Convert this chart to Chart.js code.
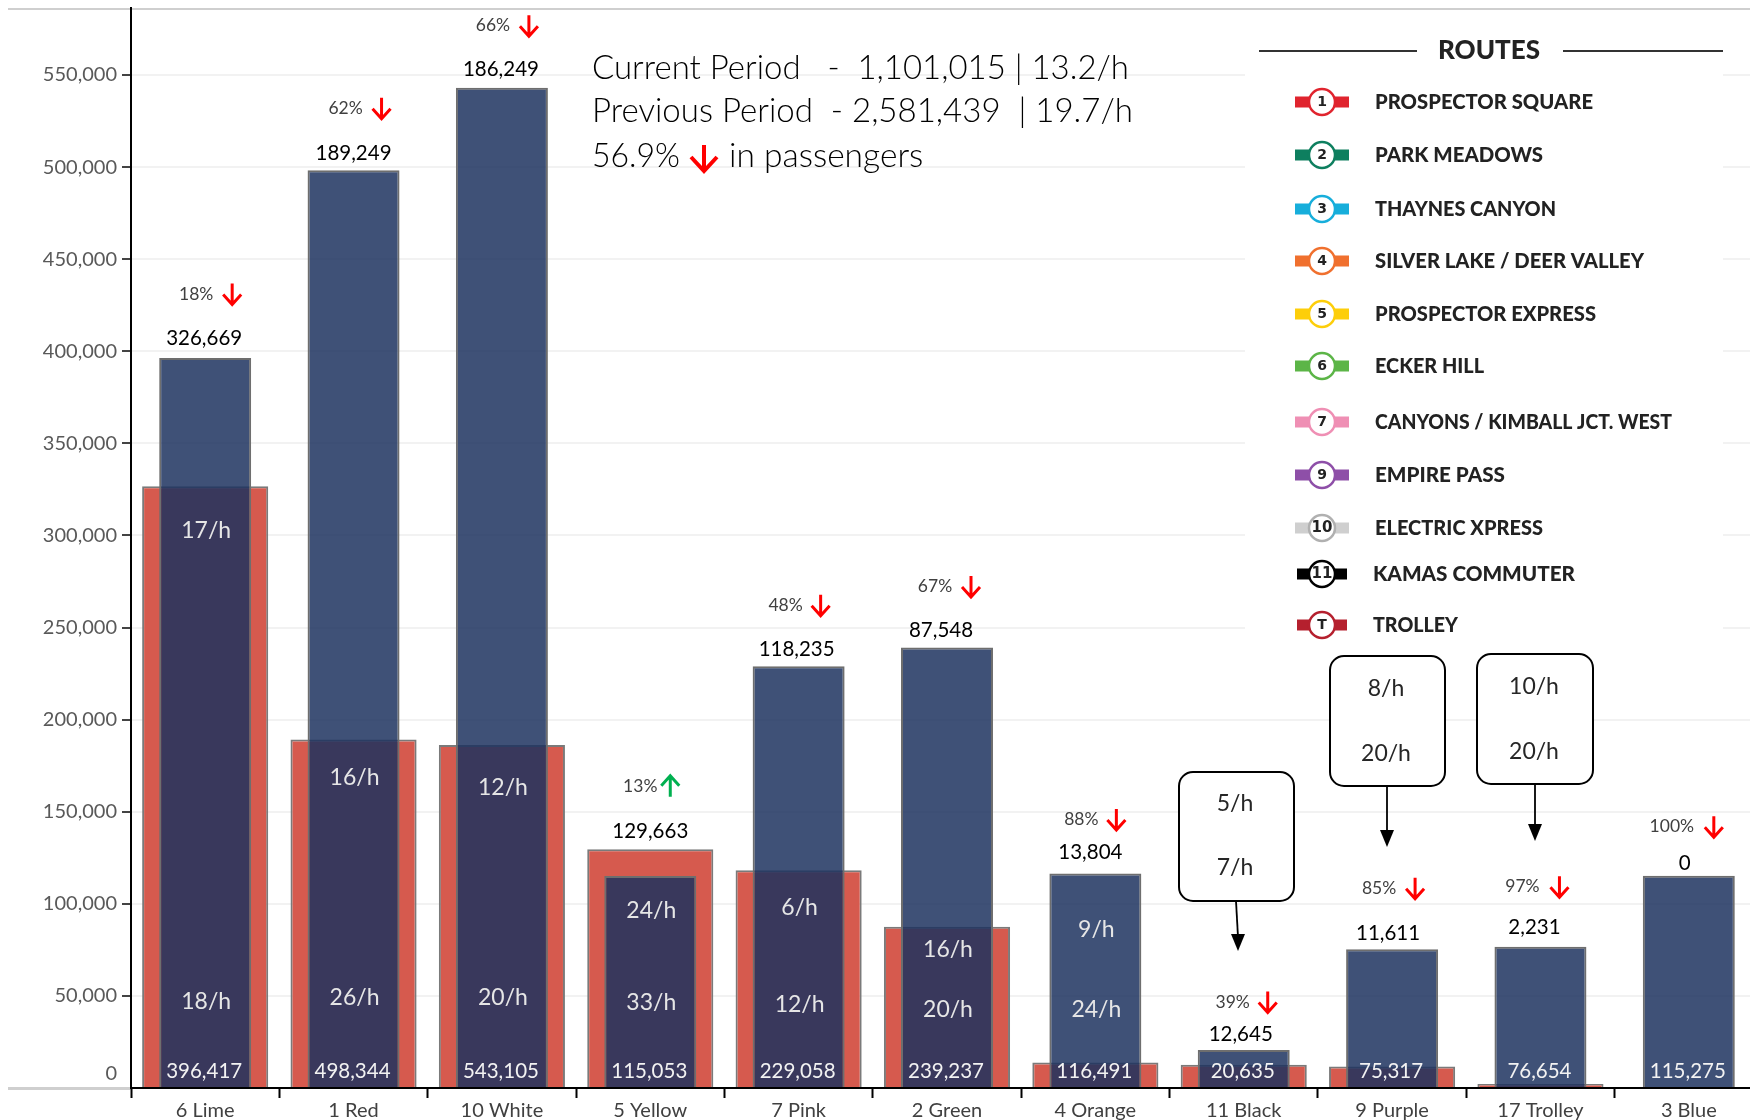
<!DOCTYPE html>
<html><head><meta charset="utf-8">
<style>html,body{margin:0;padding:0;background:#fff;overflow:hidden;width:1750px;height:1120px}
#wrap{position:absolute;left:0;top:0;width:1763px;height:1120px}canvas{display:block}</style>
<script src="https://cdn.jsdelivr.net/npm/chart.js@4"></script>
</head><body><div id="wrap"><canvas id="c" width="1763" height="1120"></canvas></div>
<script>
const categories=['6 Lime','1 Red','10 White','5 Yellow','7 Pink','2 Green','4 Orange','11 Black','9 Purple','17 Trolley','3 Blue'];
const previousPeriod=[396417,498344,543105,115053,229058,239237,116491,20635,75317,76654,115275];
const currentPeriod=[326669,189249,186249,129663,118235,87548,13804,12645,11611,2231,0];
const yTickValues=[0,50000,100000,150000,200000,250000,300000,350000,400000,450000,500000,550000];
const changePct=['18%','62%','66%','13%','48%','67%','88%','39%','85%','97%','100%'];
const changeUp=[false,false,false,true,false,false,false,false,false,false,false];
const rateUpper=['17/h','16/h','12/h','24/h','6/h','16/h','9/h'];
const rateLower=['18/h','26/h','20/h','33/h','12/h','20/h','24/h'];
const calloutRates=[['5/h','7/h'],['8/h','20/h'],['10/h','20/h']];
const summaryLines=['Current Period   -  1,101,015 | 13.2/h','Previous Period  - 2,581,439  | 19.7/h'];
const summaryLine3=['56.9%','in passengers'];
const routeNames=['PROSPECTOR SQUARE','PARK MEADOWS','THAYNES CANYON','SILVER LAKE / DEER VALLEY','PROSPECTOR EXPRESS','ECKER HILL','CANYONS / KIMBALL JCT. WEST','EMPIRE PASS','ELECTRIC XPRESS','KAMAS COMMUTER','TROLLEY'];
const routeBadges=['1','2','3','4','5','6','7','9','10','11','T'];

// annotation layout (pixels, separate from the values)
const routeColors=['#e0242e','#0e7f5f','#17aedb','#f0702e','#fdce0a','#5cb547','#ef8fb4','#8e4fa8','#cfcfcf','#000000','#b5202e'];
const routeY=[102,155,209,261,314,366,422,475,528,574,625];
const routeW=[218,168,181,269,221,109,297,130,168,202,85];
const totalGap=[20,17,18,18,17,17,21,16,16,19,12];
const totalDx=[-1,0,-1,0,-2,-6,-5,-3,-4,-6,-4];
const pctRise=[44,45,44,45,44,44,33,32,45,41,37];
const pctDx=[-9,-8,-9,-10,-13,-12,-14,-11,-13,-18,-17];
const arrowDx=[27,28,27,20,22,24,21,24,23,19,25];
const rateUpperY=[531,778,788,911,908,950,930];
const rateLowerY=[1002,998,998,1003,1005,1010,1010];
const calloutBox=[[1179,772,115,129,1236,1238,951,804,868,1235],[1330,656,115,130,1387,1387,847,689,754,1386],[1477,654,116,130,1535,1535,841,687,752,1534]];

const F='Lato, Carlito, "Open Sans", sans-serif';
function txt(ctx,s,x,y,font,color,align,maxW){ctx.font=font;ctx.fillStyle=color;ctx.textAlign=align||'center';ctx.textBaseline='middle';if(maxW)ctx.fillText(s,x,y,maxW);else ctx.fillText(s,x,y);}
function arrow(ctx,x,y,up,color,h,w,lw){ctx.save();ctx.strokeStyle=color;ctx.lineWidth=lw;ctx.lineCap='butt';ctx.lineJoin='miter';const d=up?-1:1;ctx.beginPath();ctx.moveTo(x,y-d*h/2);ctx.lineTo(x,y+d*h/2-d*1);ctx.moveTo(x-w/2,y+d*(h/2-w/2-1));ctx.lineTo(x,y+d*h/2);ctx.lineTo(x+w/2,y+d*(h/2-w/2-1));ctx.stroke();ctx.restore();}

const decor={id:'decor',
beforeDraw(chart){const c=chart.ctx;c.save();c.fillStyle='#fff';c.fillRect(0,0,chart.width,chart.height);
 c.strokeStyle='#cfcfcf';c.lineWidth=2;c.beginPath();c.moveTo(8,9);c.lineTo(1750,9);c.stroke();
 c.lineWidth=3;c.beginPath();c.moveTo(8,1088.5);c.lineTo(131,1088.5);c.stroke();c.restore();},
afterDraw(chart){const c=chart.ctx,xs=chart.scales.x,ys=chart.scales.y;c.save();
 c.fillStyle='#fff';c.fillRect(1245,30,478,610);
 categories.forEach((n,i)=>{const cx=xs.getPixelForValue(i);
  const top=ys.getPixelForValue(Math.max(previousPeriod[i],currentPeriod[i]));
  const ty=top-totalGap[i];
  txt(c,currentPeriod[i].toLocaleString('en-US'),cx+totalDx[i],ty,'400 20.5px '+F,'#000');
  const py=ty-pctRise[i];
  txt(c,changePct[i],cx+pctDx[i],py,'400 17.5px '+F,'#404040');
  arrow(c,cx+arrowDx[i],py,changeUp[i],changeUp[i]?'#00b050':'#ff0000',21,18,3);
  txt(c,previousPeriod[i].toLocaleString('en-US'),cx-1,1071,'400 20.5px '+F,'#f2f2f2');
  if(i<rateUpper.length){
   txt(c,rateUpper[i],cx+1,rateUpperY[i],'400 23px '+F,'#e6e6e6');
   txt(c,rateLower[i],cx+1,rateLowerY[i],'400 23px '+F,'#e6e6e6');
  }
 });
 calloutBox.forEach((b,k)=>{const [x,y,w,h,ax0,ax1,tip,ty1,ty2,tx]=b;
  c.fillStyle='#fff';c.strokeStyle='#000';c.lineWidth=2;c.beginPath();c.roundRect(x,y,w,h,14);c.fill();c.stroke();
  c.lineWidth=1.8;c.beginPath();c.moveTo(ax0,y+h);c.lineTo(ax1,tip-14);c.stroke();
  c.fillStyle='#000';c.beginPath();c.moveTo(ax1-7,tip-17);c.lineTo(ax1+7,tip-17);c.lineTo(ax1,tip);c.closePath();c.fill();
  txt(c,calloutRates[k][0],tx,ty1,'400 23px '+F,'#262626');
  txt(c,calloutRates[k][1],tx,ty2,'400 23px '+F,'#262626');
 });
 const sf='300 33.5px '+F;
 txt(c,summaryLines[0],592,68,sf,'#000','left',537);
 txt(c,summaryLines[1],592,111,sf,'#000','left',541);
 txt(c,summaryLine3[0],592,156,sf,'#000','left',88);
 arrow(c,704,158,false,'#ff0000',26,26,4);
 txt(c,summaryLine3[1],729,156,sf,'#000','left',196);
 c.strokeStyle='#333';c.lineWidth=2;c.beginPath();c.moveTo(1259,51);c.lineTo(1417,51);c.moveTo(1563,51);c.lineTo(1723,51);c.stroke();
 txt(c,'ROUTES',1489,51,'900 26px '+F,'#222','center',107);
 routeNames.forEach((n,i)=>{const y=routeY[i],cx=1322;const col=routeColors[i];
  const half=i>=9?25:27;
  c.fillStyle=col;c.fillRect(cx-half,y-5.5,half*2,11);
  c.fillStyle='#fff';c.strokeStyle=col==='#cfcfcf'?'#b0b0b0':col;c.lineWidth=2.5;c.beginPath();c.arc(cx,y,13,0,Math.PI*2);c.fill();c.stroke();
  txt(c,routeBadges[i],cx,y,'900 '+(routeBadges[i].length>1?15:14)+'px "DejaVu Sans", '+F,'#222');
  txt(c,n,i>=9?1373:1375,y,'900 21px '+F,'#222','left',routeW[i]);
 });
 c.restore();}};

new Chart(document.getElementById('c'),{type:'bar',
 data:{labels:categories,datasets:[
  {label:'Previous Period',data:previousPeriod,order:1,grouped:false,barPercentage:.62,categoryPercentage:1,backgroundColor:'rgba(29,50,95,.85)',borderColor:'#6e6e6e',borderWidth:2},
  {label:'Current Period',data:currentPeriod,order:2,grouped:false,barPercentage:.85,categoryPercentage:1,backgroundColor:'#d65a4e',borderColor:'#7a7a7a',borderWidth:2}
 ]},
 options:{responsive:false,animation:false,devicePixelRatio:1,
  layout:{padding:{top:8,left:0,right:0,bottom:0}},
  plugins:{legend:{display:false},tooltip:{enabled:false},title:{display:false}},
  scales:{
   x:{grid:{drawOnChartArea:false,drawTicks:true,tickLength:10,tickColor:'#000',tickWidth:2,offset:true},border:{color:'#000',width:2},
      ticks:{font:{family:F,size:20},color:'#404040',padding:1,maxRotation:0,autoSkip:false},
      afterFit(s){s.height=32;s.paddingLeft=0;s.paddingRight=0;}},
   y:{min:0,max:586400,afterBuildTicks(s){s.ticks=yTickValues.map(v=>({value:v}));},
      grid:{color:'#f2f2f2',lineWidth:2,tickLength:9,tickColor:c=>c.tick&&c.tick.value===0?'rgba(0,0,0,0)':'#444',tickWidth:2},
      border:{color:'#000',width:2},
      ticks:{autoSkip:false,font:{family:F,size:20,lineHeight:1.4},color:'#595959',padding:5,
       callback:v=>v===0?['0','']:Number(v).toLocaleString('en-US')},
      afterFit(s){s.width=131;s.paddingTop=0;s.paddingBottom=0;}}
  }},
 plugins:[decor]});
</script></body></html>
